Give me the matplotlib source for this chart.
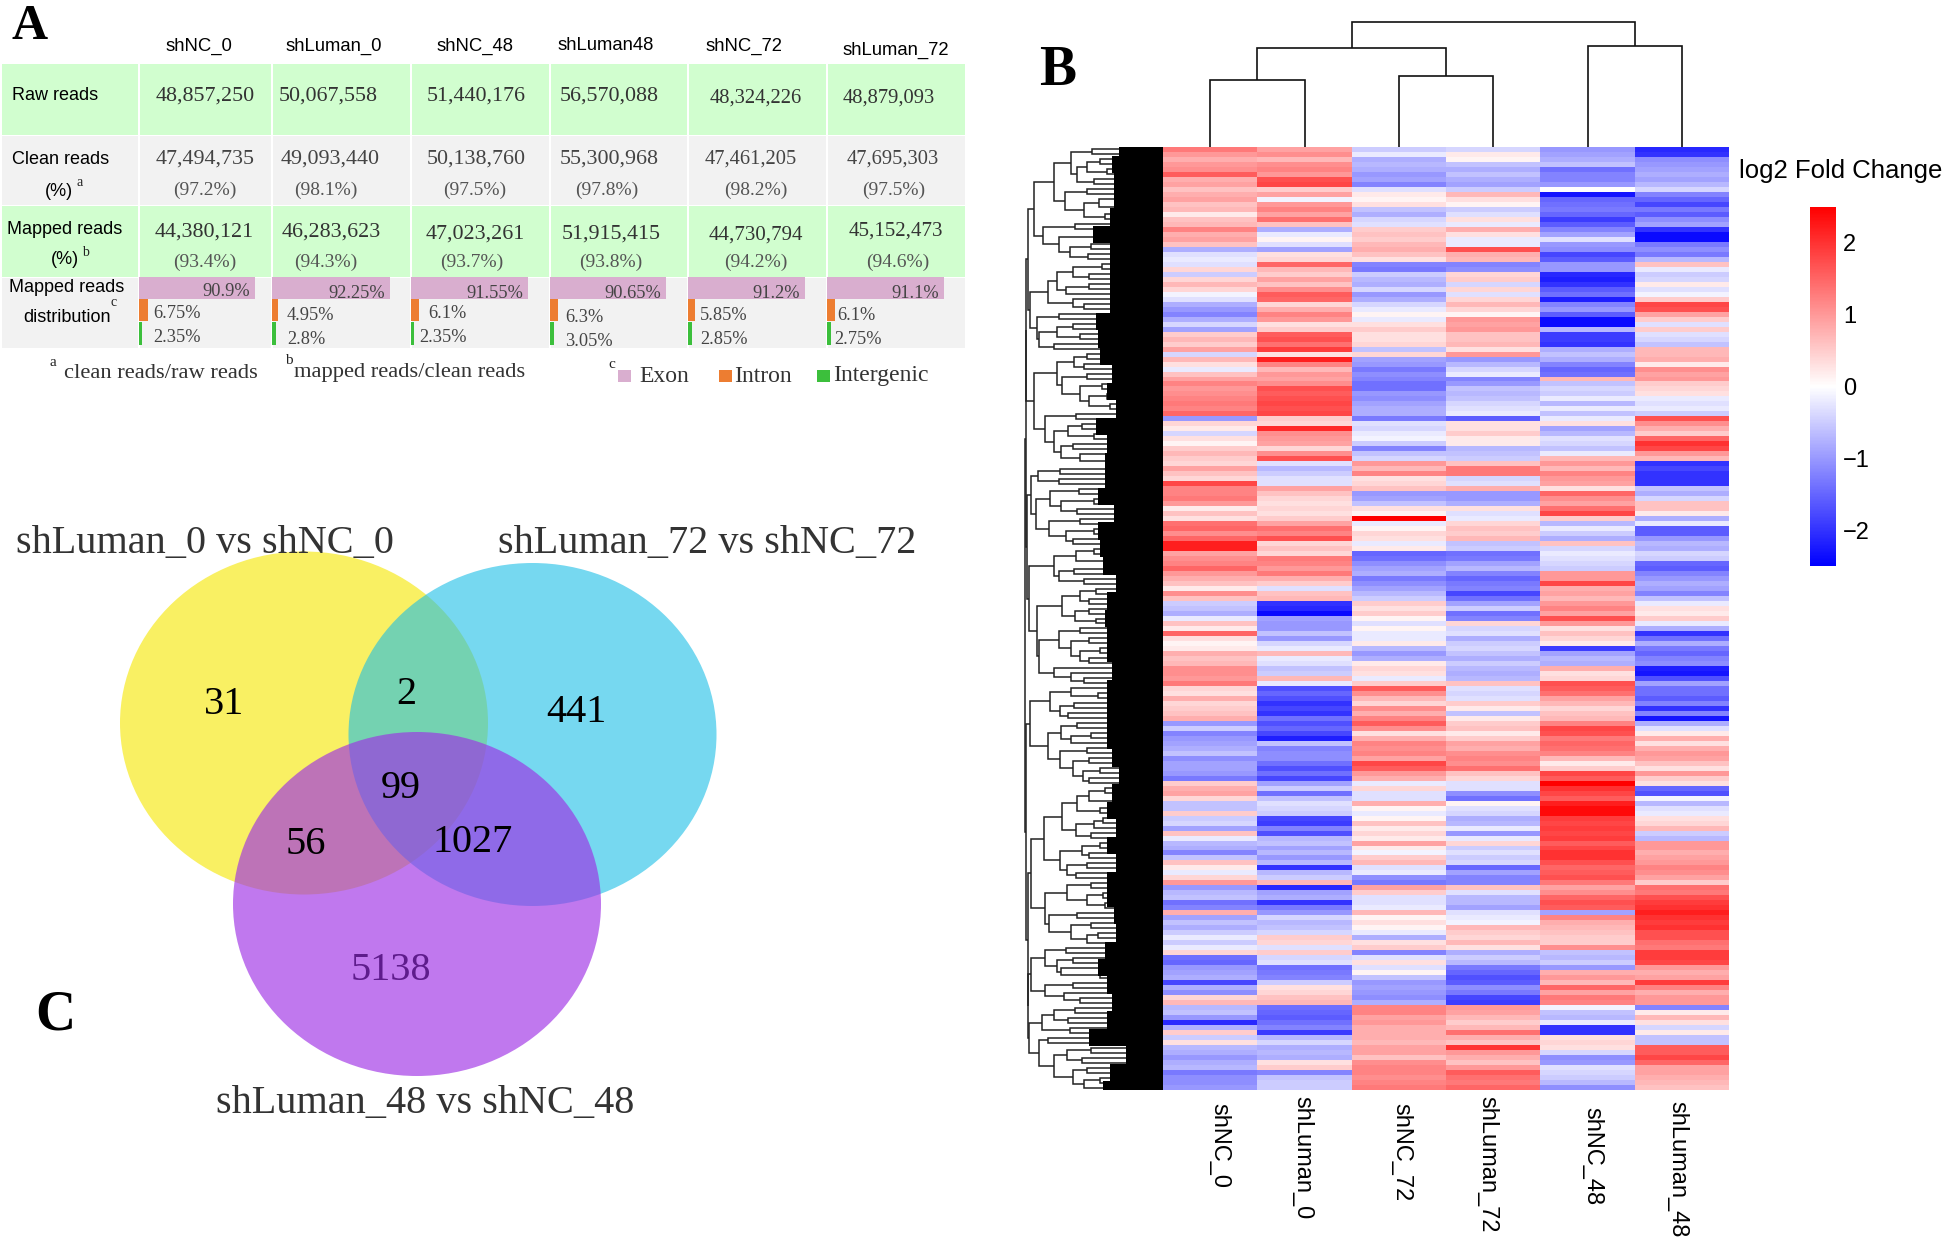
import numpy as np
import matplotlib
matplotlib.use('Agg')
import matplotlib.pyplot as plt
from matplotlib.patches import Ellipse

SERIF = 'Liberation Serif'
SANS = 'Liberation Sans'
W, H = 1946, 1240

# ---- panel A table
samples = ['shNC_0', 'shLuman_0', 'shNC_48', 'shLuman48', 'shNC_72', 'shLuman_72']
raw_reads = ['48,857,250', '50,067,558', '51,440,176', '56,570,088', '48,324,226', '48,879,093']
clean_reads = ['47,494,735', '49,093,440', '50,138,760', '55,300,968', '47,461,205', '47,695,303']
clean_pct = ['(97.2%)', '(98.1%)', '(97.5%)', '(97.8%)', '(98.2%)', '(97.5%)']
mapped_reads = ['44,380,121', '46,283,623', '47,023,261', '51,915,415', '44,730,794', '45,152,473']
mapped_pct = ['(93.4%)', '(94.3%)', '(93.7%)', '(93.8%)', '(94.2%)', '(94.6%)']
exon = [90.9, 92.25, 91.55, 90.65, 91.2, 91.1]
intron = [6.75, 4.95, 6.1, 6.3, 5.85, 6.1]
intergenic = [2.35, 2.8, 2.35, 3.05, 2.85, 2.75]

# ---- panel C venn
venn_counts = ['31', '2', '441', '99', '56', '1027', '5138']
venn_titles = ['shLuman_0 vs shNC_0', 'shLuman_72 vs shNC_72', 'shLuman_48 vs shNC_48']

# ---- panel B heatmap, one list per column
heat_labels = ['shNC_0', 'shLuman_0', 'shNC_72', 'shLuman_72', 'shNC_48', 'shLuman_48']
col_shNC_0 = [
    1.3, 1.0, .8, 1.0, 1.1, 1.6, .8, .9, .6, .8, .9, .6, .7, .2, .6, .7, 1.2, .8, .9, .6, -.8, -.3, -.2, -.3, .4, -.5, .4, .7, .4, -.1, -.3, -.8,
    -1, -1.2, -.8, -.4, -.9, .5, .7, .5, .9, -.4, .7, .3, -.2, .6, .9, 1.2, 1.0, 1.1, 1.2, 1.3, 1.2, 1.5, -1, .4, .2, -.4, .3, .1, .5, .7, .5, .4,
    .9, .6, .4, 1.8, 1.2, 1.2, 1.3, 1, .2, .6, .3, 1.4, 1.5, 1.1, 1.5, 2.2, 2.2, .9, 1.1, 1.2, 1.5, 1, .8, .6, .2, 1.1, .6, -.5, -.6, -.8, -.2, .6,
    .2, 1.5, .3, .1, .2, .8, .6, .7, 1.1, 1.1, 1, 1.3, .4, .3, .8, .4, .5, .6, .8, -1, -.5, -1.2, -1, -.9, -.8, -.6, -1.1, -.9, -.9, -1, -1.3, .5,
    .8, .9, .4, -.6, -.6, .5, -.5, -.4, -.9, .6, -.2, -.7, -.8, -1.2, -.6, .6, .2, -.2, .4, 1.0, -1, -.7, -.6, -1.4, -1.2, .8, -.9, -.6, -.8, -.5, -.2, -.5,
    -.2, .4, -1.4, -1.5, -1, -.9, -.8, -1.8, -.8, -1.1, .4, .7, -.7, -.6, -1, -2.1, -.8, .5, -.5, .3, -.7, -.8, -1, -.8, -.7, -1.3, -1.1, -1.1, -1]
col_shLuman_0 = [
    .9, 1.1, .7, 1.1, 1.2, 1.0, 1.7, 1.8, .5, .9, -.1, 1.0, 1.2, .9, 1.4, .6, -.8, -.2, .1, -.3, -.9, .3, .4, 1.5, .7, .5, .9, .6, 1.1, 1.6, 1.5, .4,
    .8, 1.2, 1, .3, .5, 1.6, 1.7, 1.4, 1.9, .3, 2.2, 1.2, .7, 1, .9, 1.1, 1.7, 1.6, 1.7, 1.8, 1.7, 1.8, .5, .4, 2.1, 1.1, 1, .9, .4, 1.1, 1.7, -.3,
    -.7, -.5, -.3, -.3, .9, .6, .4, .3, .4, .3, .5, .9, 1.4, 1.2, 1.7, .4, .6, .4, 1.3, 1.2, 1, 1.3, .8, .5, -.3, .6, .7, -2, -2.1, -2.4, -.9, -1,
    -1, -.6, -1, -.4, -.2, .7, -.2, -.3, -.6, -.5, .7, -.2, -1.7, -1.5, -1.7, -2, -1.8, -2, -1.4, -1.7, -1.5, -1.8, -2.2, -.6, -1.2, -1.1, -1.1, -1.4, -1.7, -1.4, -1.8, -.9,
    -.5, -1.4, -.6, -.3, -.4, -.5, -1.8, -1.9, -1.2, -1.7, -.7, -.6, -.9, -.7, -1, -.7, -2, -.7, -.5, .7, -2.1, -.9, -.8, -2, -1.3, -1, -.4, -.7, -.6, -.4, .5, .4,
    -.3, .5, -.4, -.3, -1.4, -1.3, -1.2, -.5, .3, .4, .6, .7, -1.4, -1.5, -1.6, -1.4, -1.2, -1.9, -.7, -.4, -.8, -.7, -.8, .3, .5, -1.2, -.6, -.5, -.5]
col_shNC_72 = [
    -.5, -.2, -.8, -.7, -.8, -1, -.9, -1.2, -.3, .2, .1, .3, -.6, -.8, -.4, -.3, .5, .6, .5, .7, .8, .6, .3, -1.2, -1.3, -.5, -.7, -.8, -.4, -1, -.8, -.4,
    -.2, .1, -.2, .3, .5, .3, .3, .4, -.6, .4, -.9, -1, -1.3, -1.1, -1.2, -1.4, -1.4, -1, -1.1, -.9, -.8, -.8, -1.3, -.3, -.4, -.2, -.1, -.5, -1.2, -.6, -.4, 1,
    .7, 1.2, .3, .4, .6, -1, -.9, -.6, .3, .1, 2.5, -.2, .1, .4, .3, -.2, .2, -1.5, -1.4, -1.1, -.9, -.8, -1.3, -1.1, -.9, -.7, -.5, .5, .3, .5, .1, -.3,
    .1, -.2, -.2, .2, -.7, -1, -.8, .2, .4, .3, -.2, .5, 1.6, 1.1, .7, .4, 1.1, .8, 1.2, 1.6, 1.1, .3, .8, 1.2, 1.1, 1.2, .9, 1.8, 1.6, 1, .8, -.2,
    .4, -.3, -.3, .8, .1, -.2, .1, .6, .2, .4, .2, .9, .2, -.1, .5, .7, -.3, -.2, -1.1, -1.3, .9, .5, -.3, -.3, -.2, .7, .1, .3, .1, -.2, -.8, .3,
    .5, -1.2, -.3, .3, -.3, .1, -.6, -1, -.9, -1, -1.1, -.8, 1.2, 1.2, .9, 1, .8, .8, .8, .7, .9, .9, .6, 1.1, 1.2, 1.2, 1.1, 1.2, 1.3]
col_shLuman_72 = [
    -.4, .2, .1, -.6, -.8, -.6, -.8, -.9, -.5, .7, .3, .1, -.5, -.3, .3, -.2, .8, .3, -.2, -.2, 1.7, .8, .7, -1.2, -1.1, .4, .5, -.4, .4, -.3, .4, .7,
    .4, .1, 1, .9, 1, .6, .6, .7, .3, 1, -1, -.7, -.4, -.2, -1.2, -1, -.6, -.7, -.6, -.4, -.3, -.2, -1.6, .3, .3, .5, .2, .2, -.7, -.6, -.5, .6,
    1.3, 1.3, -.4, -.3, .8, -1, -1, -.8, .3, -.3, -.2, .4, .6, .5, .7, -.6, -.5, -1.4, -1.3, -.9, -.7, -1.2, -1.5, -1.3, -1.2, -1.8, -1.4, -.9, -.5, -1.4, -1.2, .4,
    -.4, -.3, -.8, -.5, -.4, -.6, -.8, -.5, -.7, -.8, -.7, .6, -.3, -.4, -.3, .5, .2, -.6, .2, .5, .6, .2, .5, .9, .8, 1.1, 1.2, 1.1, 1.4, .6, .4, -.3,
    -.3, -1.1, -1.4, .1, -.3, -.4, -.8, -.7, -.2, -1, -.2, .4, -.5, -.3, -.5, -.4, -1.5, -.9, -1.2, -1.2, .6, -.3, -.7, -.7, -.9, -.3, -.2, -.1, .7, .5, .4, .7,
    .3, -.8, -.5, -.7, -1.3, -1.5, -1.7, -1.6, -1.1, -1.3, -1.8, -1.9, 1, .9, .7, .5, .7, 1.4, .8, .6, 2, 1, .8, .6, 1, 1.6, 1.4, 1.3, 1.5]
col_shNC_48 = [
    -1, -.9, -.8, -.6, -1.4, -1.2, -1.2, -1, 0, -2.3, -1.5, -1.4, -1.3, -1.5, -1.9, -1.6, -1.2, -.9, -.3, -1, -1.1, -1.8, -1.6, -1, -1, -2.1, -2.2, -2, -1.6, -1.4, -2.2, -1.2,
    -1, -1.6, -2.4, -2.4, -.7, -1.9, -1.9, -2, -.8, -.6, -.8, -1.2, -1.5, -1.4, .7, -.6, -.4, -.5, -.2, -.7, -.2, -.6, -.2, .3, -.9, -.7, -.3, -.4, -.6, -.2, .7, 1,
    .7, 1.2, 1, .9, .3, 1.5, 1.1, .9, 1.4, 1.8, .5, -.7, -.2, -.5, -.8, .6, -.4, -.2, -.3, -.4, -.5, 1, 1, 1.8, .8, .9, .7, 1, 1.2, .9, 1.7, 1,
    .3, .6, .4, .2, -1.9, -.9, -.7, -.8, .8, .3, .4, 1.7, 1.6, 1.4, .9, .7, .4, .6, .7, 1.2, 1.8, 1.7, 1.3, 1.5, 1.4, 1.2, .7, .2, .5, 1.8, 1.6, 2.5,
    2, 1.8, 1.6, 2.2, 2.4, 2.4, 1.9, 1.8, 1.9, 1.8, 1.9, 1.6, 1.8, 2, 2, 1.7, 1.5, 1.6, 1.7, 1.3, .9, 1.1, 1.5, 1.7, 1.6, -.9, 1.2, .8, .7, .6, .5, .5,
    1.1, -.6, -.7, -.5, -1, .8, 1, .7, 1.5, .9, 1.3, 1.2, -.1, -.6, -.7, -.2, -2, -2, .3, .4, .3, -.4, -1.1, -1, -.3, -.4, -.5, -.7, -1.1]
col_shLuman_48 = [
    -2.1, -2, -1.1, -1, -.9, -.8, -.9, -.7, -.4, -1.2, -1.5, -1.8, -1.3, -1.6, -1.1, -.9, -2, -2.4, -2.4, -1.3, -1.1, -1.3, -.7, .6, -.2, -.5, -.4, .2, -.3, -.1, .5, 1.8,
    1.7, .9, .5, -.3, .5, -.3, -.4, -.6, .7, .7, .8, .2, 1.1, .9, 1, .5, .4, .3, -.2, -.3, -.2, -.5, 1.7, 1.1, .8, .5, 1.5, 2, 1.8, 1, .7, -2,
    -1.8, -2, -2, -2, -.6, -.8, -.4, .6, .6, .2, -.8, -.2, -1.6, -1.6, -1, -.7, -.8, -.4, -.5, -1.5, -1.6, -1.2, -1, -.8, -.9, -1.2, -.6, -.2, .3, .2, .5, -.2,
    -.8, -2, -1.4, -.8, -1.3, -1.5, -1.2, -1.1, -2.2, -2.3, -1.7, -.9, -1.4, -1.4, -1.6, -1.2, -2, -1.2, -2.3, -.8, -.3, .2, .8, .3, .8, 1, .9, .6, .3, 1, .5, .3,
    -1.5, -1.7, -.1, -.7, -.3, -.2, .3, .4, .7, -.5, -.7, 1, 1, .8, .9, 1, 1.2, 1.1, .9, .5, 1.4, 1.3, 1.7, 1.9, 2, 2.2, 2, 1.9, 2, 1.7, 1.7, 1.4,
    1.3, 1.9, 1.9, 1.8, 1, .8, .9, 1.9, 1.2, .8, 1, 1, -1.2, .2, .7, .3, -.4, .2, -.6, -.6, 1.6, 1.6, 1.8, 1.5, .9, .9, .8, .7, .6]

# column dendrogram: (merge height, left, right), leaves are column indexes
col_tree = (125, (99.5, (67, 0, 1), (71, 2, 3)), (101.5, 4, 5))

# row dendrogram: (merge level, upper, lower), an int is a leaf of that many rows
c1 = (75, (110, (157, 1, 1), (125, (145, (175, 1, 1), (190, 1, 1)), (160, 1, 1))), (97, (145, 1, 1), (140, (172, 1, 2), (185, 1, 1))))
c2 = (50, (120, 1, 1), (85, (170, 1, 1), (108, (155, 1, 1), (148, 1, 1))))
c3 = (60, (80, (115, (178, 1, 1), (150, 1, 1)), (100, (150, 1, 1), 1)), (115, 1, (140, 1, 1)))
c4 = (38, (85, 1, 1), (42, (80, (115, 1, 1), (130, 1, 1)), (75, 1, 1)))
c5 = (80, (118, (145, 1, 1), (140, 1, 1)), (92, (145, 1, 1), (130, (178, 1, 1), (150, (190, 1, 1), (195, 1, 1)))))
c6 = (55, (122, 1, 1), (75, (105, (135, 1, 1), (160, 1, 1)), (90, (115, 1, 1), (130, 1, 2))))
c7 = (40, (88, 1, 1), (85, 1, 1))
c8 = (65, (128, 1, 1), (90, (160, 1, 1), (125, 1, 1)))
c9 = (62, (130, 1, 1), (100, (160, 1, 1), (115, 1, 1)))
c10 = (75, (122, (160, 1, 1), (200, 1, 1)), (85, (118, 1, 1), (140, 1, 1)))
c11 = (92, (130, (165, 1, 1), (150, 1, 1)), (120, (150, 1, 1), (165, 1, 1)))
c12 = (85, (130, 1, 1), (110, (150, 1, 1), (130, (175, 1, 1), (150, 1, 1))))
c13 = (75, 1, (110, 1, (140, 1, 1)))
c14 = (65, (110, 1, (170, 1, 1)), (88, (118, 1, 1), (105, 1, 1)))
c15 = (90, (125, 1, 1), (110, (155, 1, 1), 1))
c16 = (88, (145, 1, 1), (115, (150, 1, 1), (138, (175, 1, 1), (150, 1, 1))))
c17 = (92, (125, (150, (185, 1, 1), (210, 1, 1)), (175, 1, 1)), (122, (160, (180, 1, 1), 1), (155, 1, 1)))
c18 = (88, (135, (175, 1, 1), (150, 1, 1)), (102, (145, 1, 1), (122, 1, 1)))
c19 = (102, (155, 1, 1), (145, (180, 1, 1), (185, 1, 1)))
c20 = (62, (125, 1, 1), (112, (155, 1, 1), (145, (170, 1, 1), 1)))
c21 = (55, (100, 1, 1), (80, (115, 1, 1), (90, 1, (175, 1, 1))))
c22 = (55, (115, 1, 1), (95, 1, (130, 1, 1)))
c23 = (48, (75, (120, 1, 1), (105, 1, 1)), (108, 1, 1))
c24 = (42, (60, 1, 1), (75, (102, (155, 1, 1), (135, 1, 1)), (115, (145, 1, 1), (140, (175, 1, 1), 1))))
part_a = (14, (18, (30, c1, c2), (22, c3, c4)), (30, c5, c6))
part_b = (16, (25, c7, (35, c8, c9)), (20, c10, (37, c11, (42, c12, c13))))
part_c = (14, (22, c14, (60, c15, c16)), (17, (25, (52, c17, c18), (55, c19, c20)), (18, (25, c21, c22), (20, c23, c24))))
row_tree = (10, (13, part_a, part_b), part_c)

# width of the solid black leaf band, top to bottom, in px left of the heatmap
band_depth = [44, 51, 49, 49, 53, 70, 53, 53, 53, 53,
              67, 65, 63, 51, 56, 47, 67, 56, 58,
              58, 65, 49, 65, 63, 60, 47, 56, 58, 56,
              56, 51, 56, 56, 56, 56, 51, 44, 51,
              56, 47, 56, 47, 56, 56, 49, 47, 58,
              65, 56, 51, 56, 74, 37, 53, 60]

fig = plt.figure(figsize=(W / 100, H / 100), dpi=100, facecolor='white')
ax = fig.add_axes([0, 0, 1, 1])
ax.set_xlim(0, W)
ax.set_ylim(H, 0)
ax.axis('off')


def txt(x, y, s, size, family=SERIF, color='#222222', ha='center', va='center', **kw):
    ax.text(x, y, s, fontsize=size, family=family, color=color, ha=ha, va=va, **kw)


# ---- A: table
col_edges = [139, 272, 411, 550, 688, 827, 966]
row_edges = [63, 135, 205, 277, 348]
row_colors = ['#D1FECF', '#F2F2F2', '#D1FECF', '#F2F2F2']
lefts = [1] + col_edges[:-1]
rights = col_edges
for r, c in enumerate(row_colors):
    for l, rt in zip(lefts, rights):
        ax.barh((row_edges[r] + row_edges[r + 1]) / 2, rt - l - 2, left=l + 1,
                height=row_edges[r + 1] - row_edges[r] - 1, color=c, lw=0)

head_x = [199, 334, 475, 606, 744, 896]
head_y = [46, 46, 46, 46, 46, 50]
for x, y, s in zip(head_x, head_y, samples):
    txt(x, y, s, 13.3, SANS, 'black')

txt(55, 96, 'Raw reads', 13, SANS, 'black')
txt(61, 160, 'Clean reads', 13, SANS, 'black')
txt(59, 191, '(%)', 13, SANS, 'black')
txt(80, 182, 'a', 10, SERIF)
txt(65, 229, 'Mapped reads', 13, SANS, 'black')
txt(65, 259, '(%)', 13, SANS, 'black')
txt(85, 252, 'b', 10, SERIF)
txt(67, 288, 'Mapped reads', 13, SANS, 'black')
txt(67, 317, 'distribution', 13, SANS, 'black')
txt(114, 303, 'c', 10, SERIF)

raw_x = [205, 328, 476, 609, 756, 889]
raw_y = [96, 96, 96, 96, 98, 98]
for x, y, s in zip(raw_x, raw_y, raw_reads):
    txt(x, y, s, 15.8 if x < 700 else 14.8, color='#333333')
clean_x = [205, 330, 476, 609, 751, 893]
for x, s in zip(clean_x, clean_reads):
    txt(x, 159, s, 15.8 if x < 700 else 14.8, color='#444444')
sub_x = [205, 326, 475, 607, 756, 894]
for x, s in zip(sub_x, clean_pct):
    txt(x, 190, s, 14, color='#555555')
map_x = [204, 331, 475, 611, 756, 896]
map_y = [232, 232, 234, 234, 235, 231]
for x, y, s in zip(map_x, map_y, mapped_reads):
    txt(x, y, s, 15.8 if x < 700 else 15, color='#333333')
msub_x = [205, 326, 472, 611, 756, 898]
for x, s in zip(msub_x, mapped_pct):
    txt(x, 262, s, 14, color='#555555')

# distribution bars
bar_x = [139, 272, 411, 550, 688, 827]
px_per_pct = 1.28
exon_c, intron_c, inter_c = '#D9AECF', '#ED7D31', '#3CBF3C'
intron_tx = [153, 287, 428, 565, 700, 837]
intron_ty = [314, 315, 313, 318, 315, 315]
inter_tx = [153, 287, 419, 565, 700, 834]
inter_ty = [337, 339, 337, 341, 339, 339]
exon_ty = [291, 293, 293, 293, 293, 293]
for i in range(6):
    ax.barh(288, exon[i] * px_per_pct, left=bar_x[i], height=22, color=exon_c, lw=0)
    ax.barh(310, intron[i] * px_per_pct, left=bar_x[i], height=22, color=intron_c, lw=0)
    ax.barh(333, intergenic[i] * px_per_pct, left=bar_x[i], height=23, color=inter_c, lw=0)
    txt(bar_x[i] + exon[i] * px_per_pct - 5, exon_ty[i], '%g%%' % exon[i], 13.2, color='#444444', ha='right')
    txt(intron_tx[i], intron_ty[i], '%g%%' % intron[i], 13.2, color='#444444', ha='left')
    txt(inter_tx[i], inter_ty[i], '%g%%' % intergenic[i], 13.2, color='#444444', ha='left')

# footnotes
txt(53, 362, 'a', 11)
txt(64, 373, 'clean reads/raw reads', 16.2, color='#333333', ha='left')
txt(289, 361, 'b', 11)
txt(294, 373, 'mapped reads/clean reads', 16.2, color='#333333', ha='left')
txt(612, 364, 'c', 11)
legend_names = ['Exon', 'Intron', 'Intergenic']
legend_colors = [exon_c, intron_c, inter_c]
legend_box = [618, 719, 817]
legend_tx = [639, 734, 833]
for name, c, bx, tx in zip(legend_names, legend_colors, legend_box, legend_tx):
    ax.barh(376, 13, left=bx, height=12, color=c, lw=0)
    txt(tx, 376, name, 17, color='#333333', ha='left')

txt(30, 27, 'A', 36, color='black', weight='bold')
txt(1058, 71, 'B', 40, color='black', weight='bold')
txt(55, 1015, 'C', 40, color='black', weight='bold')

# ---- C: venn
ax.add_patch(Ellipse((304, 723), 368, 343, fc='#F9F063', ec='none'))
ax.add_patch(Ellipse((532.5, 734.5), 368, 343, fc=(27 / 255, 190 / 255, 230 / 255, .6), ec='none'))
ax.add_patch(Ellipse((417, 904), 368, 344, fc=(158 / 255, 48 / 255, 229 / 255, .65), ec='none'))
count_x = [224, 406, 576, 401, 306, 473, 391]
count_y = [705, 695, 713, 789, 845, 843, 970]
for i, s in enumerate(venn_counts):
    txt(count_x[i], count_y[i], s, 29, color='#5E1C8C' if s == '5138' else 'black')
title_x = [205, 707, 425]
title_y = [544, 543, 1104]
for x, y, s in zip(title_x, title_y, venn_titles):
    txt(x, y, s, 29, color='#333333')

# ---- B: heatmap
hx0, hx1, hy0, hy1 = 1163, 1729, 147, 1090
ax_h = fig.add_axes([hx0 / W, 1 - hy1 / H, (hx1 - hx0) / W, (hy1 - hy0) / H])
heat = np.array([col_shNC_0, col_shLuman_0, col_shNC_72, col_shLuman_72, col_shNC_48, col_shLuman_48]).T
im = ax_h.imshow(heat, cmap='bwr', vmin=-2.5, vmax=2.5, aspect='auto', interpolation='nearest')
ax_h.axis('off')

n_rows = heat.shape[0]
row_h = (hy1 - hy0) / n_rows
col_w = (hx1 - hx0) / 6
lab_x = [1219, 1302, 1401, 1487, 1592, 1677]
lab_y = [1103, 1096, 1103, 1096, 1107, 1101]
for x, y, s in zip(lab_x, lab_y, heat_labels):
    txt(x, y, s, 17, SANS, 'black', va='top', rotation=270)

# colorbar
cax = fig.add_axes([1810 / W, 1 - 566 / H, 26 / W, 359 / H])
cb = fig.colorbar(im, cax=cax, ticks=[-2, -1, 0, 1, 2])
cb.outline.set_visible(False)
cb.ax.tick_params(length=0, pad=5)
for t in cb.ax.get_yticklabels():
    t.set_fontsize(17)
    t.set_family(SANS)
txt(1739, 171, 'log2 Fold Change', 18.5, SANS, 'black', ha='left')


# column dendrogram
def draw_col(node):
    if isinstance(node, int):
        return hx0 + col_w * (node + .5), 0
    h, a, b = node
    xa, ha = draw_col(a)
    xb, hb = draw_col(b)
    ax.plot([xa, xa, xb, xb], [hy0 - ha, hy0 - h, hy0 - h, hy0 - hb], color='#111111', lw=1.2,
            solid_joinstyle='miter', solid_capstyle='butt')
    return (xa + xb) / 2, h


draw_col(col_tree)


# row dendrogram, level 0..311 runs from x=1020 to the heatmap edge
def level_x(m):
    return 1020 + m * (hx0 - 1020) / 311


def draw_row(node, start):
    if isinstance(node, int):
        return hy0 + (start + node / 2) * row_h, 311, start + node
    m, a, b = node
    ya, ma, nxt = draw_row(a, start)
    yb, mb, nxt = draw_row(b, nxt)
    ax.plot([level_x(ma), level_x(m), level_x(m), level_x(mb)], [ya, ya, yb, yb], color='#222222',
            lw=1.1, solid_joinstyle='miter', solid_capstyle='butt')
    return (ya + yb) / 2, m, nxt


_, _, total = draw_row(row_tree, 0)
assert total == n_rows

band_y = np.linspace(hy0, hy1, len(band_depth))
ax.fill_betweenx(band_y, hx0 - np.array(band_depth), hx0, color='black', lw=0, step='mid', zorder=3)

fig.savefig('out.png', dpi=100)
